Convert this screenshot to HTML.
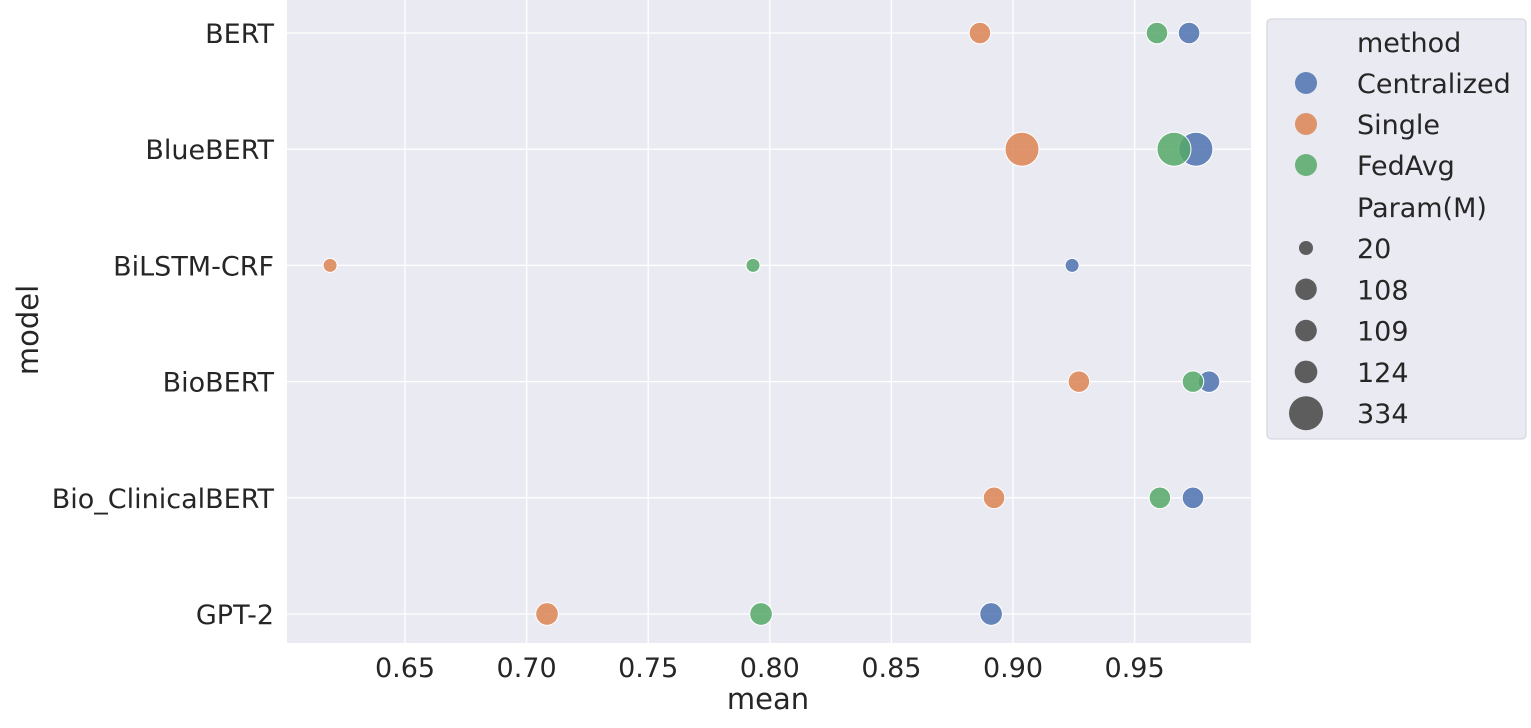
<!DOCTYPE html>
<html><head><meta charset="utf-8"><style>
html,body{margin:0;padding:0;background:#fff;}
svg text{font-family:"DejaVu Sans","Liberation Sans",sans-serif;fill:#262626;}
</style></head><body>
<svg id="chart" width="1531" height="723" xmlns="http://www.w3.org/2000/svg">
<rect x="287" y="0" width="964" height="643" fill="#eaeaf2"/>
<g id="grid"></g>
<g id="marks"></g>
<g id="axes"></g>
<text x="768" y="709" font-size="29" text-anchor="middle">mean</text>
<text x="0" y="0" font-size="29" text-anchor="middle" transform="translate(38,330) rotate(-90)">model</text>
<g id="legend">
<rect x="1267" y="19" width="259" height="420" rx="4" fill="#eaeaf2" stroke="#d0d0d8"/>
</g>
</svg>
<script>
const models = ["BERT","BlueBERT","BiLSTM-CRF","BioBERT","Bio_ClinicalBERT","GPT-2"];
const params = [108,334,20,108,108,124];
const centralized = [0.9724,0.9752,0.9243,0.9806,0.974,0.891];
const single = [0.8864,0.9037,0.6192,0.9271,0.8922,0.7084];
const fedavg = [0.9592,0.9662,0.7931,0.974,0.9604,0.7964];
const xTicks = [0.65,0.70,0.75,0.80,0.85,0.90,0.95];
const sizeLegend = [20,108,109,124,334];
const NS="http://www.w3.org/2000/svg";
function X(v){return 405+(v-0.65)*2432;}
function Y(i){return 33+i*116.2;}
function R(p){return Math.sqrt(49+(p-20)/314*240);}
function mk(tag,attrs,parent){const e=document.createElementNS(NS,tag);for(const k in attrs)e.setAttribute(k,attrs[k]);parent.appendChild(e);return e;}
const grid=document.getElementById('grid'),marks=document.getElementById('marks'),axes=document.getElementById('axes'),legend=document.getElementById('legend');
xTicks.forEach(t=>{
  const l=mk('line',{x1:X(t),x2:X(t),y1:0,y2:643,stroke:'#fff','stroke-width':1.3},grid);
  
  
  const tx=mk('text',{x:X(t),y:677,'font-size':27,'text-anchor':'middle'},axes);
  tx.textContent=t.toFixed(2);
  
  
});
models.forEach((m,i)=>{
  const l=mk('line',{x1:287,x2:1251,y1:Y(i),y2:Y(i),stroke:'#fff','stroke-width':1.3},grid);
  
  
  const tx=mk('text',{x:274,y:Y(i)+10,'font-size':27,'text-anchor':'end'},axes);
  tx.textContent=m;
  
  
});
const series=[[centralized,'#4c72b0','centralized'],[single,'#dd8452','single'],[fedavg,'#55a868','fedavg']];
series.forEach(([vals,col,name])=>{
  vals.forEach((v,i)=>{
    const c=mk('circle',{cx:X(v),cy:Y(i),r:R(params[i]),fill:col,'fill-opacity':0.85,stroke:'#fff','stroke-width':1},marks);
    
    
  });
});
function ltext(y,s){const t=mk('text',{x:1357,y:y+10,'font-size':27},legend);t.textContent=s;}
ltext(42,'method');
[['Centralized','#4c72b0'],['Single','#dd8452'],['FedAvg','#55a868']].forEach(([s,c],i)=>{
  const y=83+i*41;
  const m=mk('circle',{cx:1306,cy:y,r:11,fill:c,'fill-opacity':0.85},legend);
  
  
  ltext(y,s);
});
ltext(207,'Param(M)');
sizeLegend.forEach((p,i)=>{
  const y=248+i*41.3;
  const m=mk('circle',{cx:1306,cy:y,r:R(p),fill:'#444','fill-opacity':0.85},legend);
  
  
  ltext(y,String(p));
});
</script>
</body></html>
